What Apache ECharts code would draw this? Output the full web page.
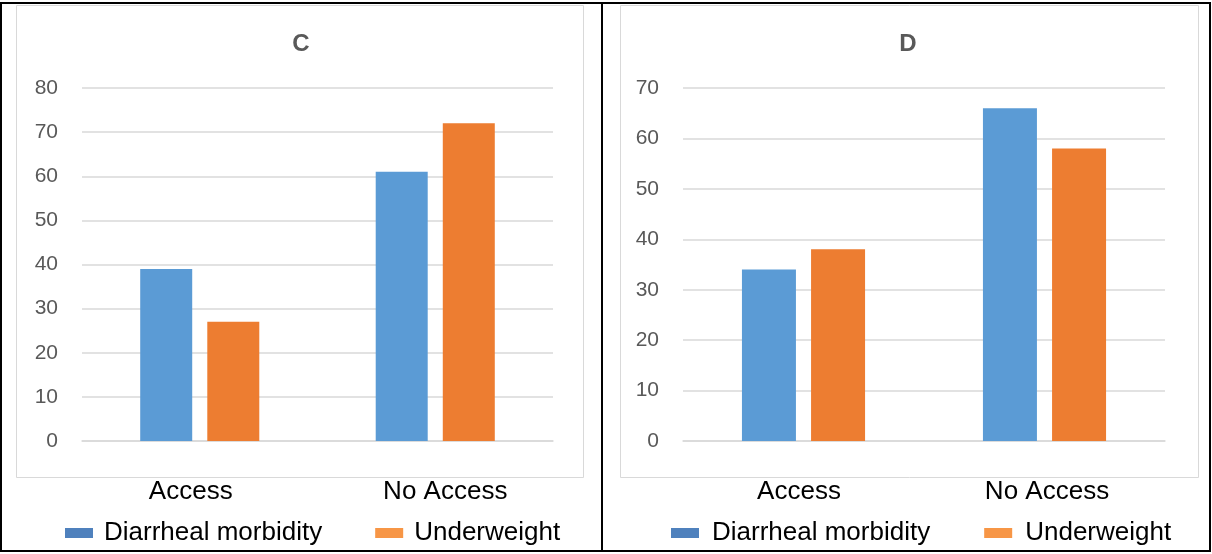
<!DOCTYPE html>
<html>
<head>
<meta charset="utf-8">
<script src="https://cdn.jsdelivr.net/npm/echarts@6/dist/echarts.min.js"></script>
<style>
html,body{margin:0;padding:0;background:#fff;}
#main{width:1212px;height:554px;}
</style>
</head>
<body>
<div id="main"></div>
<script>
var categories = ['Access', 'No Access'];
var seriesNames = ['Diarrheal morbidity', 'Underweight'];
var panelTitles = ['C', 'D'];
var diarrhealC = [39, 61];
var underweightC = [27, 72];
var diarrhealD = [34, 66];
var underweightD = [38, 58];
var yMaxC = 80, yMaxD = 70, yStep = 10;

var blue = '#5B9BD5', orange = '#ED7D31';
var font = '"Liberation Sans", Arial, sans-serif';

var chart = echarts.init(document.getElementById('main'));

// per-panel horizontal nudge of category labels (left / right padding)
function xAxis(gi, padA, padB){
  return {
    type: 'category', gridIndex: gi, data: categories,
    axisLine: {show: true, lineStyle: {color: '#D9D9D9', width: 1.5}},
    axisTick: {show: false},
    axisLabel: {
      color: '#000', fontSize: 26, fontFamily: font, margin: 38,
      formatter: function(v, i){ return '{' + (i === 0 ? 'a' : 'b') + '|' + v + '}'; },
      rich: {
        a: {color: '#000', fontSize: 26, fontFamily: font, padding: padA},
        b: {color: '#000', fontSize: 26, fontFamily: font, padding: padB}
      }
    }
  };
}
function yAxis(gi, max){
  return {
    type: 'value', gridIndex: gi, min: 0, max: max, interval: yStep,
    axisLine: {show: false}, axisTick: {show: false},
    axisLabel: {color: '#595959', fontSize: 21, fontFamily: font, margin: 24},
    splitLine: {lineStyle: {color: '#D9D9D9', width: 1.5}}
  };
}
function bar(name, data, gi, color, w, gap){
  return {
    name: name, type: 'bar', xAxisIndex: gi, yAxisIndex: gi, data: data,
    barWidth: w, barGap: gap,
    itemStyle: {color: color}
  };
}
function legend(left, gap, tp){
  return {
    left: left, top: 515, itemWidth: 28, itemHeight: 10, itemGap: gap,
    icon: 'rect',
    textStyle: {color: '#000', fontSize: 26, fontFamily: font, padding: [0,0,0,tp]},
    data: [
      {name: seriesNames[0], itemStyle: {color: '#4F81BD'}},
      {name: seriesNames[1], itemStyle: {color: '#F79646'}}
    ]
  };
}

chart.setOption({
  animation: false,
  backgroundColor: '#fff',
  title: [
    {text: panelTitles[0], left: 296, top: 27, textAlign: 'center',
     textStyle: {color: '#595959', fontSize: 24, fontWeight: 'bold', fontFamily: font}},
    {text: panelTitles[1], left: 903, top: 27, textAlign: 'center',
     textStyle: {color: '#595959', fontSize: 24, fontWeight: 'bold', fontFamily: font}}
  ],
  grid: [
    {left: 82, right: 659, top: 88, bottom: 113},
    {left: 683, right: 47, top: 88, bottom: 113}
  ],
  xAxis: [xAxis(0, [0,18,0,0], [0,0,0,20]), xAxis(1, [0,9,0,0], [0,0,0,5])],
  yAxis: [yAxis(0, yMaxC), yAxis(1, yMaxD)],
  legend: [legend(60, 53, 6), legend(666, 54, 8)],
  series: [
    bar(seriesNames[0], diarrhealC, 0, blue, 52, '29%'),
    bar(seriesNames[1], underweightC, 0, orange, 52, '29%'),
    bar(seriesNames[0], diarrhealD, 1, blue, 54, '28%'),
    bar(seriesNames[1], underweightD, 1, orange, 54, '28%')
  ],
  graphic: [
    {type: 'rect', shape: {x: 16.5, y: 5.5, width: 567, height: 472}, style: {fill: 'none', stroke: '#D9D9D9', lineWidth: 1}, silent: true},
    {type: 'rect', shape: {x: 620.5, y: 5.5, width: 578, height: 472}, style: {fill: 'none', stroke: '#D9D9D9', lineWidth: 1}, silent: true},
    {type: 'rect', shape: {x: 1, y: 3, width: 1209, height: 548}, style: {fill: 'none', stroke: '#000', lineWidth: 2}, silent: true},
    {type: 'line', shape: {x1: 602, y1: 3, x2: 602, y2: 551}, style: {stroke: '#000', lineWidth: 2}, silent: true}
  ]
});
</script>
</body>
</html>
